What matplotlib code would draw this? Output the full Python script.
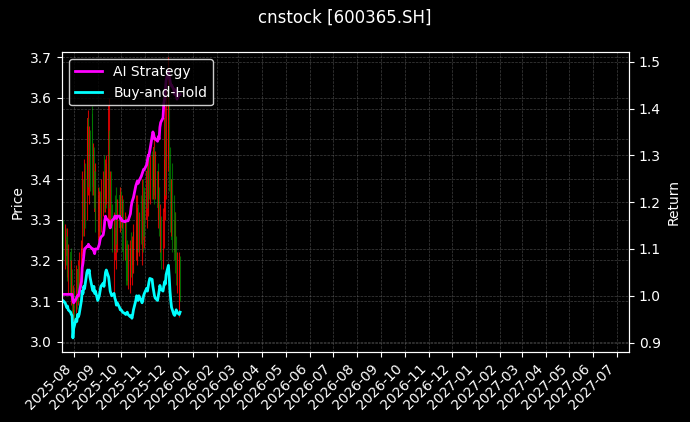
import matplotlib
matplotlib.use('Agg')
import matplotlib.pyplot as plt
import matplotlib.dates as mdates
import pandas as pd

# trading days (business days) shown in the chart
dates = pd.bdate_range('2025-07-17', '2025-12-16')

# OHLC
opens = [3.32, 3.28, 3.20, 3.27, 3.21, 3.25, 3.16, 3.22, 3.12, 3.17,
         3.06, 3.12, 3.08, 3.17, 3.10, 3.18, 3.12, 3.16, 3.22, 3.38,
         3.28, 3.42, 3.32, 3.40, 3.52, 3.36, 3.50, 3.56, 3.38, 3.47,
         3.32, 3.40, 3.27, 3.36, 3.27, 3.35, 3.28, 3.33, 3.44, 3.34,
         3.42, 3.35, 3.30, 3.50, 3.30, 3.40, 3.32, 3.14, 3.34, 3.20,
         3.35, 3.24, 3.36, 3.28, 3.36, 3.30, 3.34, 3.22, 3.30, 3.22,
         3.24, 3.14, 3.14, 3.26, 3.16, 3.25, 3.19, 3.22, 3.30, 3.20,
         3.32, 3.23, 3.34, 3.22, 3.38, 3.25, 3.36, 3.30, 3.42, 3.33,
         3.44, 3.36, 3.45, 3.36, 3.38, 3.46, 3.36, 3.42, 3.30, 3.36,
         3.24, 3.30, 3.20, 3.25, 3.32, 3.52, 3.38, 3.45, 3.62, 3.45,
         3.28, 3.40, 3.34, 3.22, 3.30, 3.24, 3.14, 3.08, 3.20]
highs = [3.33, 3.30, 3.29, 3.28, 3.28, 3.26, 3.24, 3.23, 3.20, 3.18,
         3.14, 3.13, 3.19, 3.18, 3.20, 3.19, 3.22, 3.25, 3.42, 3.40,
         3.45, 3.44, 3.53, 3.57, 3.55, 3.53, 3.52, 3.58, 3.49, 3.48,
         3.44, 3.42, 3.38, 3.38, 3.37, 3.37, 3.40, 3.42, 3.46, 3.45,
         3.44, 3.46, 3.60, 3.52, 3.42, 3.42, 3.34, 3.32, 3.36, 3.30,
         3.38, 3.35, 3.38, 3.38, 3.37, 3.36, 3.35, 3.32, 3.31, 3.24,
         3.25, 3.24, 3.25, 3.27, 3.26, 3.27, 3.29, 3.36, 3.32, 3.36,
         3.34, 3.32, 3.36, 3.40, 3.40, 3.37, 3.38, 3.45, 3.44, 3.46,
         3.46, 3.46, 3.47, 3.46, 3.50, 3.48, 3.47, 3.44, 3.42, 3.38,
         3.34, 3.31, 3.33, 3.45, 3.58, 3.55, 3.64, 3.70, 3.64, 3.48,
         3.40, 3.44, 3.36, 3.32, 3.32, 3.26, 3.22, 3.22, 3.21]
lows = [3.22, 3.20, 3.18, 3.19, 3.16, 3.15, 3.12, 3.10, 3.09, 3.06,
        3.04, 3.05, 3.07, 3.08, 3.09, 3.10, 3.11, 3.14, 3.21, 3.26,
        3.26, 3.28, 3.30, 3.36, 3.38, 3.34, 3.37, 3.36, 3.36, 3.33,
        3.30, 3.27, 3.25, 3.25, 3.25, 3.26, 3.27, 3.31, 3.32, 3.32,
        3.33, 3.34, 3.28, 3.33, 3.28, 3.28, 3.22, 3.12, 3.22, 3.18,
        3.24, 3.22, 3.27, 3.27, 3.28, 3.28, 3.20, 3.20, 3.18, 3.14,
        3.14, 3.13, 3.12, 3.16, 3.14, 3.17, 3.17, 3.20, 3.20, 3.19,
        3.22, 3.21, 3.24, 3.19, 3.22, 3.23, 3.26, 3.28, 3.33, 3.31,
        3.35, 3.34, 3.35, 3.35, 3.36, 3.34, 3.35, 3.30, 3.28, 3.26,
        3.22, 3.18, 3.18, 3.23, 3.30, 3.36, 3.35, 3.42, 3.37, 3.27,
        3.26, 3.22, 3.20, 3.20, 3.17, 3.14, 3.12, 3.06, 3.10]
closes = [3.24, 3.22, 3.27, 3.21, 3.25, 3.17, 3.22, 3.12, 3.18, 3.08,
          3.12, 3.06, 3.17, 3.10, 3.18, 3.12, 3.20, 3.23, 3.38, 3.28,
          3.42, 3.30, 3.50, 3.55, 3.42, 3.50, 3.40, 3.38, 3.47, 3.36,
          3.42, 3.30, 3.36, 3.27, 3.35, 3.28, 3.38, 3.40, 3.34, 3.42,
          3.35, 3.43, 3.58, 3.36, 3.40, 3.30, 3.24, 3.30, 3.25, 3.28,
          3.26, 3.33, 3.28, 3.36, 3.30, 3.34, 3.22, 3.30, 3.20, 3.15,
          3.15, 3.22, 3.23, 3.18, 3.24, 3.19, 3.27, 3.34, 3.22, 3.33,
          3.24, 3.30, 3.26, 3.38, 3.25, 3.35, 3.28, 3.42, 3.35, 3.43,
          3.37, 3.44, 3.37, 3.44, 3.48, 3.36, 3.45, 3.33, 3.40, 3.28,
          3.32, 3.20, 3.30, 3.40, 3.55, 3.40, 3.60, 3.66, 3.40, 3.30,
          3.38, 3.25, 3.22, 3.30, 3.20, 3.16, 3.20, 3.20, 3.12]

# cumulative returns
ai_strategy = [1.003, 1.003, 1.003, 1.003, 1.003, 1.003, 1.003, 1.003, 1.003, 1.003,
               0.99, 0.985, 0.993, 0.997, 1.0, 1.0, 1.005, 1.03, 1.06, 1.07,
               1.085, 1.1, 1.105, 1.105, 1.11, 1.105, 1.105, 1.1, 1.1, 1.095,
               1.09, 1.1, 1.1, 1.105, 1.11, 1.12, 1.125, 1.13, 1.14, 1.16,
               1.17, 1.165, 1.16, 1.15, 1.145, 1.15, 1.16, 1.165, 1.17, 1.17,
               1.165, 1.17, 1.17, 1.165, 1.165, 1.16, 1.16, 1.158, 1.16, 1.16,
               1.16, 1.16, 1.175, 1.19, 1.2, 1.205, 1.21, 1.235, 1.24, 1.245,
               1.24, 1.245, 1.255, 1.26, 1.265, 1.27, 1.27, 1.28, 1.29, 1.3,
               1.3, 1.31, 1.34, 1.35, 1.345, 1.335, 1.335, 1.33, 1.34, 1.335,
               1.36, 1.37, 1.38, 1.41, 1.42, 1.44, 1.46, 1.48, 1.47, 1.46,
               1.45, 1.45, 1.44, 1.43, 1.44, 1.43, 1.42, 1.43, 1.43]
buy_hold = [0.986, 0.99, 0.985, 0.98, 0.975, 0.978, 0.97, 0.965, 0.96, 0.958,
            0.91, 0.93, 0.95, 0.945, 0.96, 0.955, 0.96, 0.99, 1.01, 1.005,
            1.02, 1.015, 1.05, 1.055, 1.05, 1.055, 1.04, 1.015, 1.01, 1.02,
            1.005, 1.01, 0.99, 0.995, 1.0, 1.01, 1.02, 1.027, 1.02, 1.035,
            1.05, 1.055, 1.04, 1.025, 1.01, 1.005, 1.0, 1.005, 0.995, 0.99,
            0.98, 0.985, 0.975, 0.97, 0.97, 0.968, 0.965, 0.962, 0.96, 0.963,
            0.965, 0.96, 0.955, 0.958, 0.952, 0.96, 0.97, 0.99, 1.0, 0.995,
            0.99, 1.0, 0.99, 0.985, 0.99, 1.0, 1.005, 1.016, 1.01, 1.02,
            1.03, 1.037, 1.035, 1.02, 1.01, 1.0, 0.995, 0.99, 1.0, 1.01,
            1.022, 1.015, 1.01, 1.02, 1.03, 1.025, 1.045, 1.065, 1.04, 1.01,
            0.99, 0.975, 0.96, 0.958, 0.962, 0.97, 0.965, 0.96, 0.965]

plt.style.use('dark_background')
fig, ax = plt.subplots(figsize=(6.9, 4.22), dpi=100)
fig.subplots_adjust(left=0.0899, right=0.9116, top=0.876, bottom=0.166)

# candlesticks
for d, o, h, l, c in zip(dates, opens, highs, lows, closes):
    col = 'red' if c >= o else 'green'
    ax.vlines(d, l, h, color=col, linewidth=0.8, alpha=0.8)
    ax.bar(d, c - o, bottom=o, width=0.6, color=col, alpha=0.8)

ax.set_ylabel('Price')
ax.set_ylim(2.975, 3.712)
ax.grid(True, linestyle='--', linewidth=0.5, color='gray', alpha=0.5)

ax2 = ax.twinx()
ax2.plot(dates, ai_strategy, color='magenta', linewidth=2, label='AI Strategy')
ax2.plot(dates, buy_hold, color='cyan', linewidth=2, label='Buy-and-Hold')
ax2.set_ylabel('Return')
ax2.set_ylim(0.88, 1.52)
ax2.grid(True, linestyle='--', linewidth=0.5, color='gray', alpha=0.5)
ax2.legend(loc='upper left', facecolor='black', edgecolor='white')

ax.set_xlim(pd.Timestamp('2025-07-17'), pd.Timestamp('2027-07-17'))
ax.xaxis.set_major_locator(mdates.MonthLocator())
ax.xaxis.set_major_formatter(mdates.DateFormatter('%Y-%m'))
plt.setp(ax.get_xticklabels(), rotation=45, ha='right')

fig.suptitle('cnstock [600365.SH]')
fig.savefig('out.png', dpi=100, facecolor='black')
